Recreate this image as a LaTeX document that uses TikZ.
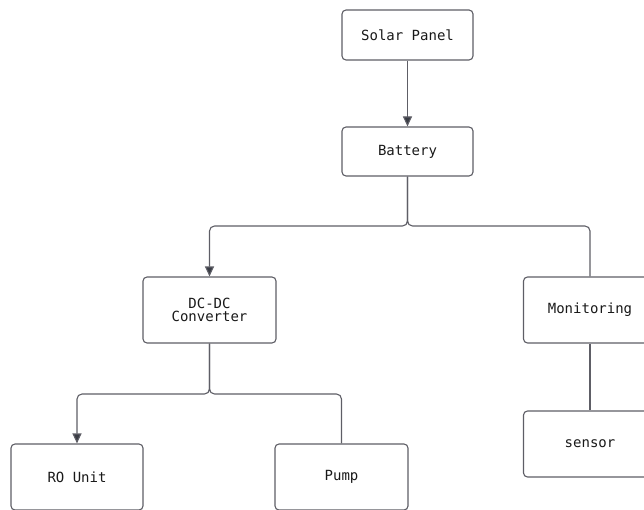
\documentclass[tikz,border=0pt]{standalone}
\usepackage{fontspec}
\setmonofont{DejaVu Sans Mono}
\usetikzlibrary{arrows.meta}
\begin{document}
\begin{tikzpicture}[x=1pt,y=-1pt,
  box/.style={draw=boxgray,line width=1.1pt,rounded corners=4pt,fill=white,
    minimum width=131pt,inner sep=0pt,align=center,
    font=\ttfamily\fontsize{14}{13.5}\selectfont,text=black!90},
  conn/.style={draw=boxgray,line width=1.1pt,rounded corners=5pt},
  arr/.style={conn,-{Triangle[length=10pt,width=9pt,fill=arrowdark]}}
]
\definecolor{boxgray}{HTML}{5E5E66}
\definecolor{arrowdark}{HTML}{3A3D45}
\useasboundingbox (0,0) rectangle (644,510);
\begin{scope}
\clip (0,0) rectangle (644,510);
\node[box,minimum height=50pt] (solar) at (407.5,35) {Solar Panel};
\node[box,minimum height=49pt] (battery) at (407.5,151.5) {Battery};
\node[box,minimum width=133pt,minimum height=66pt] (dcdc) at (209.5,310) {DC-DC\\Converter};
\node[box,minimum width=133pt,minimum height=66pt] (monitor) at (590,310) {Monitoring};
\node[box,minimum width=132pt,minimum height=66pt] (ro) at (77,477) {RO Unit};
\node[box,minimum width=133pt,minimum height=66pt] (pump) at (341.5,477) {Pump};
\node[box,minimum width=133pt,minimum height=66pt] (sensor) at (590,444) {sensor};

\coordinate (bj) at (407.5,226);
\coordinate (dj) at (209.5,394);
\draw[arr] (solar.south) -- (battery.north);
\draw[arr] (battery.south) |- (bj) -| (dcdc.north);
\draw[conn] (battery.south) |- (bj) -| (monitor.north);
\draw[arr] (dcdc.south) |- (dj) -| (ro.north);
\draw[conn] (dcdc.south) |- (dj) -| (pump.north);
\draw[conn] (monitor.south) -- (sensor.north);
\end{scope}
\end{tikzpicture}
\end{document}
